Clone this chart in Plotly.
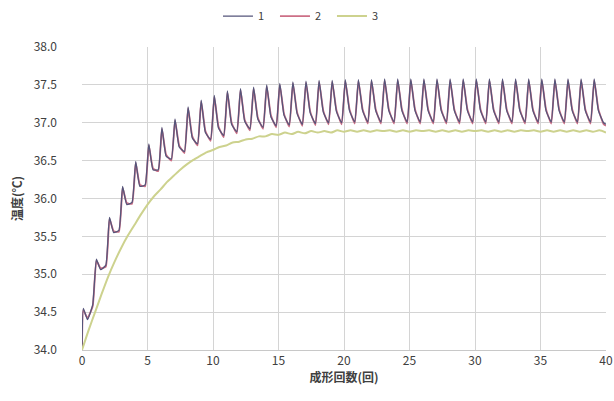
import plotly.graph_objects as go

# ---- data ----
cycles = list(range(40))

peak1 = [34.55, 35.20, 35.75, 36.16, 36.49, 36.72, 36.94, 37.05, 37.21, 37.30,
         37.36, 37.42, 37.45, 37.47, 37.50, 37.52, 37.54, 37.55, 37.56, 37.56,
         37.57, 37.57, 37.57, 37.58, 37.58, 37.58, 37.58, 37.58, 37.58, 37.58,
         37.58, 37.58, 37.58, 37.58, 37.58, 37.58, 37.58, 37.58, 37.58, 37.58]
dip1 = [34.40, 35.06, 35.55, 35.92, 36.16, 36.38, 36.56, 36.68, 36.80, 36.87,
        36.93, 36.98, 37.02, 37.05, 37.08, 37.10, 37.12, 37.13, 37.14, 37.15,
        37.16, 37.16, 37.16, 37.16, 37.16, 37.16, 37.16, 37.16, 37.16, 37.16,
        37.16, 37.16, 37.16, 37.16, 37.16, 37.16, 37.16, 37.16, 37.16, 37.16]
low1 = [34.60, 35.12, 35.58, 35.95, 36.18, 36.38, 36.52, 36.62, 36.72, 36.78,
        36.83, 36.88, 36.92, 36.94, 36.96, 36.97, 36.98, 36.99, 37.00, 37.00,
        37.01, 37.01, 37.01, 37.01, 37.01, 37.01, 37.01, 37.01, 37.01, 37.01,
        37.01, 37.01, 37.01, 37.01, 37.01, 37.01, 37.01, 37.01, 37.01, 37.00]

peak2 = [34.53, 35.18, 35.73, 36.14, 36.47, 36.70, 36.92, 37.03, 37.19, 37.28,
         37.34, 37.40, 37.43, 37.45, 37.48, 37.50, 37.52, 37.53, 37.54, 37.54,
         37.55, 37.55, 37.55, 37.56, 37.56, 37.56, 37.56, 37.56, 37.56, 37.56,
         37.56, 37.56, 37.56, 37.56, 37.56, 37.56, 37.56, 37.56, 37.56, 37.56]
dip2 = [34.42, 35.08, 35.57, 35.94, 36.18, 36.40, 36.58, 36.70, 36.82, 36.89,
        36.95, 37.00, 37.04, 37.07, 37.10, 37.12, 37.14, 37.15, 37.16, 37.17,
        37.18, 37.18, 37.18, 37.18, 37.18, 37.18, 37.18, 37.18, 37.18, 37.18,
        37.18, 37.18, 37.18, 37.18, 37.18, 37.18, 37.18, 37.18, 37.18, 37.18]
low2 = [34.58, 35.10, 35.56, 35.93, 36.16, 36.36, 36.50, 36.60, 36.70, 36.76,
        36.81, 36.86, 36.90, 36.92, 36.94, 36.95, 36.96, 36.97, 36.98, 36.98,
        36.99, 36.99, 36.99, 36.99, 36.99, 36.99, 36.99, 36.99, 36.99, 36.99,
        36.99, 36.99, 36.99, 36.99, 36.99, 36.99, 36.99, 36.99, 36.99, 36.98]

start_val = 34.00
end1 = 36.98
end2 = 36.96

green = [34.00, 34.50, 34.97, 35.35, 35.65, 35.92, 36.12, 36.30, 36.45, 36.56,
         36.64, 36.70, 36.75, 36.79, 36.82, 36.84, 36.85, 36.86, 36.87, 36.87,
         36.88, 36.88, 36.88, 36.89, 36.88, 36.88, 36.89, 36.88, 36.88, 36.88,
         36.89, 36.88, 36.88, 36.88, 36.89, 36.88, 36.88, 36.88, 36.88, 36.88,
         36.87]
green_mid = [34.26, 34.74, 35.17, 35.51, 35.79, 36.03, 36.22, 36.38, 36.51, 36.61,
             36.68, 36.74, 36.78, 36.82, 36.85, 36.87, 36.88, 36.89, 36.89, 36.90,
             36.90, 36.90, 36.90, 36.90, 36.90, 36.90, 36.90, 36.90, 36.90, 36.90,
             36.90, 36.90, 36.90, 36.90, 36.90, 36.90, 36.90, 36.90, 36.90, 36.90]

series_names = ["1", "2", "3"]
x_ticks = [0, 5, 10, 15, 20, 25, 30, 35, 40]
y_ticks = [34.0, 34.5, 35.0, 35.5, 36.0, 36.5, 37.0, 37.5, 38.0]


def build(peak, dip, low, end):
    xs, ys = [0.0], [start_val]
    for n, p, d, l in zip(cycles, peak, dip, low):
        xs += [n + 0.1, n + 0.42, n + 0.82]
        ys += [p, d, l]
    xs.append(40.0)
    ys.append(end)
    return xs, ys


x1, y1 = build(peak1, dip1, low1, end1)
x2, y2 = build(peak2, dip2, low2, end2)

xg, yg = [], []
for n in cycles:
    xg += [n, n + 0.5]
    yg += [green[n], green_mid[n]]
xg.append(40)
yg.append(green[40])

fig = go.Figure()
# series 2 drawn first (underneath), series 1 on top; legend order kept 1,2,3
fig.add_trace(go.Scatter(x=x2, y=y2, mode="lines", name=series_names[1], legendrank=2,
                         line=dict(color="#cc6f86", width=1.8, shape="spline", smoothing=0.4)))
fig.add_trace(go.Scatter(x=x1, y=y1, mode="lines", name=series_names[0], legendrank=1,
                         line=dict(color="#55557a", width=1.3, shape="spline", smoothing=0.4)))
fig.add_trace(go.Scatter(x=xg, y=yg, mode="lines", name=series_names[2], legendrank=3,
                         line=dict(color="#cdd28e", width=2, shape="spline", smoothing=0.6)))

font_main = "Noto Sans CJK JP"
fig.update_layout(
    width=614, height=401,
    margin=dict(l=82, r=8, t=47, b=51, autoexpand=False),
    paper_bgcolor="white", plot_bgcolor="white",
    font=dict(family=font_main, size=12, color="#404040"),
    showlegend=True,
    legend=dict(orientation="h", xref="container", yref="container",
                x=0.355, xanchor="left", y=0.96, yanchor="middle",
                font=dict(size=11, color="#404040"), itemwidth=30,
                entrywidth=12, entrywidthmode="pixels",
                tracegroupgap=0, bgcolor="rgba(0,0,0,0)"),
    xaxis=dict(range=[0, 40], tickvals=x_ticks, ticktext=[str(v) for v in x_ticks],
               showgrid=True, gridcolor="#d4d4d4", gridwidth=1, automargin=False,
               showline=True, linecolor="#c8c8c8", zeroline=False,
               ticklabeloverflow="allow",
               ticks="", tickfont=dict(size=12, color="#404040"),
               title=dict(text="<b>成形回数(回)</b>", font=dict(size=12, color="#404040"), standoff=2)),
    yaxis=dict(range=[34, 38], tickvals=y_ticks, ticktext=[f"{v:.1f}" for v in y_ticks],
               showgrid=True, gridcolor="#d4d4d4", gridwidth=1, automargin=False,
               showline=False, zeroline=False, ticks="",
               ticklabelstandoff=24,
               tickfont=dict(size=12, color="#404040"),
               title=dict(text="<b>温度(℃)</b>", font=dict(size=12, color="#404040"), standoff=8)),
)

fig.write_html(
    "out.html",
    config={"displayModeBar": False},
    post_script="document.body.style.margin='0';document.body.style.overflow='hidden';",
)
